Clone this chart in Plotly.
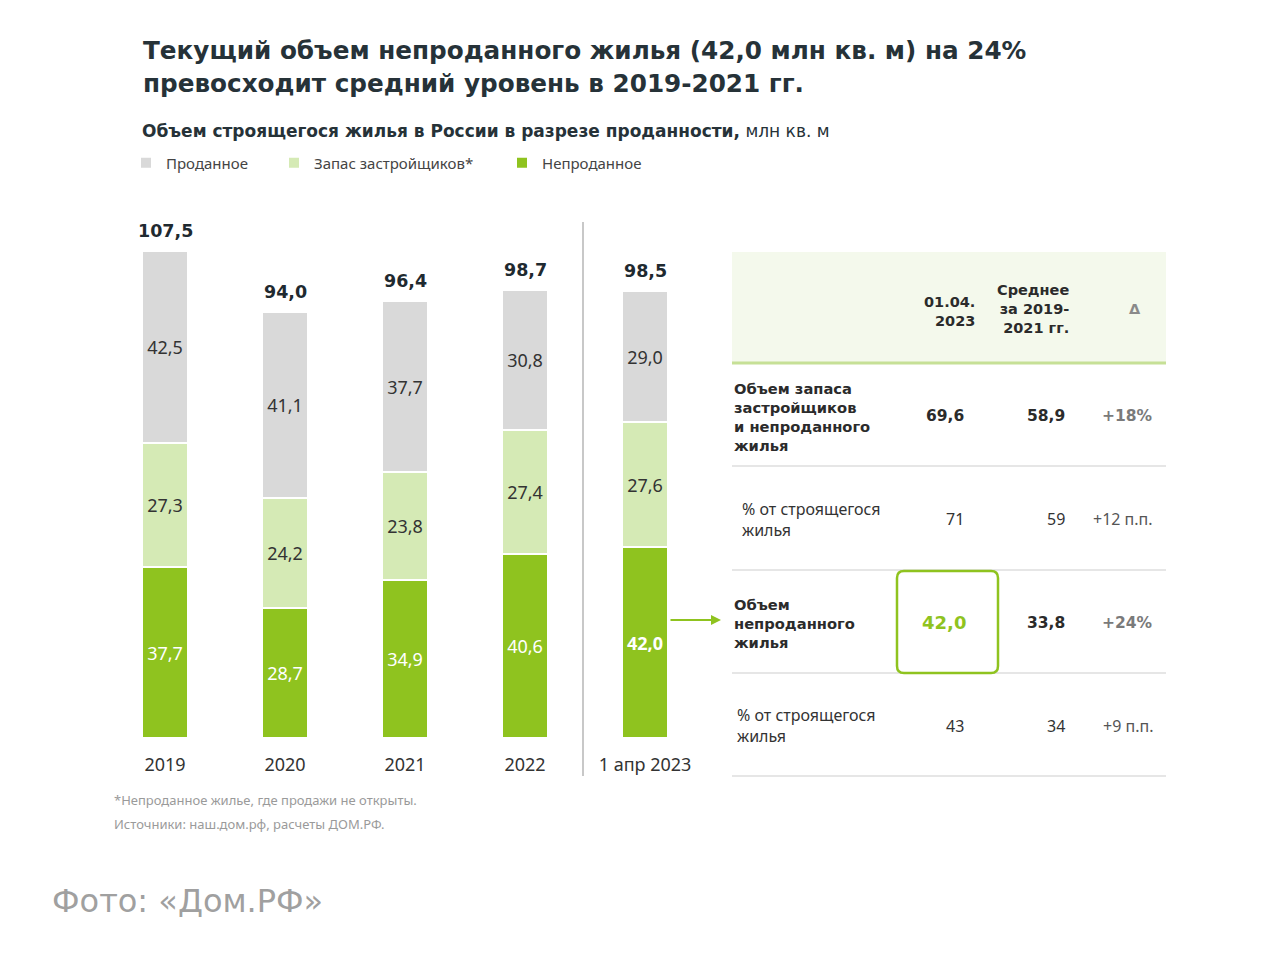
import plotly.graph_objects as go

# ---------------- data ----------------
categories = ["2019", "2020", "2021", "2022", "1 апр 2023"]
unsold = [37.7, 28.7, 34.9, 40.6, 42.0]          # Непроданное
stock = [27.3, 24.2, 23.8, 27.4, 27.6]           # Запас застройщиков*
sold = [42.5, 41.1, 37.7, 30.8, 29.0]            # Проданное
totals = [107.5, 94.0, 96.4, 98.7, 98.5]

series_names = ["Непроданное", "Запас застройщиков*", "Проданное"]

table_header = ["01.04.<br>2023", "Среднее<br>за 2019-<br>2021 гг.", "Δ"]
row_labels = ["Объем запаса<br>застройщиков<br>и непроданного<br>жилья",
              "% от строящегося<br>жилья",
              "Объем<br>непроданного<br>жилья",
              "% от строящегося<br>жилья"]
current_vals = ["69,6", "71", "42,0", "43"]
avg_vals = ["58,9", "59", "33,8", "34"]
delta_vals = ["+18%", "+12 п.п.", "+24%", "+9 п.п."]
row_bold = [True, False, True, False]
highlight_row = 2

title_lines = ["Текущий объем непроданного жилья (42,0 млн кв. м) на 24%",
               "превосходит средний уровень в 2019-2021 гг."]
subtitle = "<b>Объем строящегося жилья в России в разрезе проданности,</b> млн кв. м"
footnotes = ["*Непроданное жилье, где продажи не открыты.",
             "Источники: наш.дом.рф, расчеты ДОМ.РФ."]
caption = "Фото: «Дом.РФ»"

# ---------------- styling ----------------
OFF = 8                      # page body margin
W, H = 1280 - OFF, 967 - OFF
C_SOLD = "#d9d9d9"
C_STOCK = "#d5eab5"
C_UNSOLD = "#8fc31f"
C_TEXT = "#2b2b2b"
BOLD = "DejaVu Sans"
NORM = "Noto Sans"


def px_x(sx):
    return (sx - OFF) / W


def px_y(sy):
    return 1 - (sy - OFF) / H


def fmt(v):
    return f"{v:.1f}".replace(".", ",")


fig = go.Figure()

unsold_text = [fmt(v) for v in unsold]
unsold_text[-1] = "<b>" + unsold_text[-1] + "</b>"

legend_widths = {series_names[0]: 100, series_names[1]: 183, series_names[2]: 103}

for name, vals, color, tcolor, txt in [
    (series_names[0], unsold, C_UNSOLD, "white", unsold_text),
    (series_names[1], stock, C_STOCK, "#333333", [fmt(v) for v in stock]),
    (series_names[2], sold, C_SOLD, "#333333", [fmt(v) for v in sold]),
]:
    fig.add_trace(go.Bar(
        x=categories, y=vals, name=name,
        marker=dict(color=color, line=dict(color="white", width=2)),
        width=0.39, legendwidth=legend_widths[name],
        text=txt, textposition="inside", insidetextanchor="middle",
        textangle=0, constraintext="none",
        textfont=dict(family=NORM, size=18, color=tcolor),
        hoverinfo="skip",
    ))

# invisible pixel-coordinate axes covering the whole page
fig.add_trace(go.Scatter(x=[0], y=[0], xaxis="x2", yaxis="y2", mode="markers",
                         marker=dict(opacity=0), showlegend=False, hoverinfo="skip"))

y_bottom_px, scale = 738, 4.53
ymax = 120
y_top_px = y_bottom_px - scale * ymax

fig.update_layout(
    width=W, height=H,
    margin=dict(l=0, r=0, t=0, b=0),
    paper_bgcolor="white", plot_bgcolor="rgba(0,0,0,0)",
    barmode="stack", bargap=0,
    showlegend=True,
    legend=dict(orientation="h", traceorder="reversed",
                x=px_x(126), xanchor="left", y=px_y(163), yanchor="middle",
                font=dict(family=NORM, size=15, color="#444444"),
                itemwidth=30, bgcolor="rgba(0,0,0,0)"),
    xaxis=dict(domain=[px_x(105), px_x(705)], range=[-0.5, 4.5], type="category",
               showgrid=False, zeroline=False, showline=False,
               ticks="outside", ticklen=10, tickcolor="rgba(0,0,0,0)",
               tickfont=dict(family=NORM, size=18, color="#333333")),
    yaxis=dict(domain=[px_y(y_bottom_px), px_y(y_top_px)], range=[0, ymax],
               visible=False),
    xaxis2=dict(domain=[0, 1], range=[OFF, OFF + W], visible=False, anchor="y2"),
    yaxis2=dict(domain=[0, 1], range=[OFF + H, OFF], visible=False, anchor="x2"),
    font=dict(family=NORM),
)

ann = []

# totals above bars (x as category index)
for i, (a, b, s, t) in enumerate(zip(unsold, stock, sold, totals)):
    ann.append(dict(x=i, y=a + b + s, xref="x", yref="y", text="<b>" + fmt(t) + "</b>",
                    showarrow=False, yanchor="bottom", yshift=8,
                    font=dict(family=BOLD, size=17.5, color="#1f2a30")))

# title, subtitle
for i, line in enumerate(title_lines):
    ann.append(dict(x=141, y=50 + i * 33, xref="x2", yref="y2", text="<b>" + line + "</b>",
                    showarrow=False, xanchor="left", yanchor="middle",
                    font=dict(family=BOLD, size=24.7, color="#263238")))
ann.append(dict(x=140, y=131, xref="x2", yref="y2", text=subtitle, showarrow=False,
                xanchor="left", yanchor="middle",
                font=dict(family=BOLD, size=17, color="#263238")))

# footnotes and caption
for i, fn in enumerate(footnotes):
    ann.append(dict(x=112, y=800 + i * 24, xref="x2", yref="y2", text=fn, showarrow=False,
                    xanchor="left", yanchor="middle",
                    font=dict(family=NORM, size=13, color="#9a9a9a")))
ann.append(dict(x=50, y=901, xref="x2", yref="y2", text=caption, showarrow=False,
                xanchor="left", yanchor="middle",
                font=dict(family="DejaVu Sans", size=32, color="#a0a0a0")))

# ---------------- table ----------------
tx0, tx1 = 732, 1166
hdr_top, hdr_bot = 252, 362
row_edges = [363, 466, 570, 673, 776]
label_x = [732, 740, 732, 735]
col_cur_r, col_avg_r, col_delta_r = 966, 1067, 1155

shapes = []
shapes.append(dict(type="rect", xref="x2", yref="y2", x0=tx0, x1=tx1, y0=hdr_top, y1=hdr_bot,
                   fillcolor="#f4f9ec", line=dict(width=0), layer="below"))
shapes.append(dict(type="line", xref="x2", yref="y2", x0=tx0, x1=tx1, y0=363, y1=363,
                   line=dict(color="#c6e096", width=3)))
for ye in row_edges[1:]:
    shapes.append(dict(type="line", xref="x2", yref="y2", x0=tx0, x1=tx1, y0=ye, y1=ye,
                       line=dict(color="#e6e6e6", width=2)))

hdr_mid = 309
ann.append(dict(x=977, y=hdr_mid + 2, xref="x2", yref="y2", text="<b>" + table_header[0] + "</b>",
                showarrow=False, xanchor="right", yanchor="middle", align="right",
                font=dict(family=BOLD, size=14.5, color=C_TEXT)))
ann.append(dict(x=1071, y=hdr_mid, xref="x2", yref="y2", text="<b>" + table_header[1] + "</b>",
                showarrow=False, xanchor="right", yanchor="middle", align="right",
                font=dict(family=BOLD, size=14.5, color=C_TEXT)))
ann.append(dict(x=1135, y=hdr_mid, xref="x2", yref="y2", text="<b>" + table_header[2] + "</b>",
                showarrow=False, xanchor="center", yanchor="middle",
                font=dict(family=BOLD, size=14.5, color="#8a8a8a")))

for i in range(len(row_labels)):
    yc = (row_edges[i] + row_edges[i + 1]) / 2
    bold = row_bold[i]
    wrap = (lambda s: "<b>" + s + "</b>") if bold else (lambda s: s)
    fam = BOLD if bold else NORM
    ann.append(dict(x=label_x[i], y=yc + (2 if bold else 1), xref="x2", yref="y2",
                    text=wrap(row_labels[i]),
                    showarrow=False, xanchor="left", yanchor="middle", align="left",
                    font=dict(family=fam, size=14.7 if bold else 16,
                              color=C_TEXT if bold else "#333333")))
    if i == highlight_row:
        ann.append(dict(x=944, y=yc + 1, xref="x2", yref="y2", text="<b>" + current_vals[i] + "</b>",
                        showarrow=False, xanchor="center", yanchor="middle",
                        font=dict(family=BOLD, size=18, color=C_UNSOLD)))
    else:
        ann.append(dict(x=col_cur_r, y=yc + 1, xref="x2", yref="y2", text=wrap(current_vals[i]),
                        showarrow=False, xanchor="right", yanchor="middle",
                        font=dict(family=fam, size=15.5 if bold else 16,
                                  color=C_TEXT if bold else "#333333")))
    ann.append(dict(x=col_avg_r, y=yc + 1, xref="x2", yref="y2", text=wrap(avg_vals[i]),
                    showarrow=False, xanchor="right", yanchor="middle",
                    font=dict(family=fam, size=15.5 if bold else 16,
                              color=C_TEXT if bold else "#333333")))
    ann.append(dict(x=col_delta_r, y=yc + 1, xref="x2", yref="y2", text=wrap(delta_vals[i]),
                    showarrow=False, xanchor="right", yanchor="middle",
                    font=dict(family=fam, size=15.5 if bold else 16,
                              color="#7a7a7a" if bold else "#555555")))

# highlight box (rounded)
bx0, bx1 = 897, 998
by0, by1 = row_edges[highlight_row] + 1, row_edges[highlight_row + 1]
r = 7
path = (f"M{bx0 + r},{by0} L{bx1 - r},{by0} Q{bx1},{by0} {bx1},{by0 + r} "
        f"L{bx1},{by1 - r} Q{bx1},{by1} {bx1 - r},{by1} L{bx0 + r},{by1} "
        f"Q{bx0},{by1} {bx0},{by1 - r} L{bx0},{by0 + r} Q{bx0},{by0} {bx0 + r},{by0} Z")
shapes.append(dict(type="path", xref="x2", yref="y2", path=path,
                   line=dict(color=C_UNSOLD, width=2.5), fillcolor="rgba(0,0,0,0)"))

# separator line before last bar
shapes.append(dict(type="line", xref="x2", yref="y2", x0=583, x1=583, y0=222, y1=776,
                   line=dict(color="#c8c8c8", width=2)))

# arrow from last bar to table
ann.append(dict(x=721, y=620, xref="x2", yref="y2", ax=669, ay=620, axref="x2", ayref="y2",
                text="", showarrow=True, arrowhead=2, arrowsize=1, arrowwidth=2,
                arrowcolor=C_UNSOLD))

fig.update_layout(annotations=ann, shapes=shapes)

fig.write_html("out.html")
